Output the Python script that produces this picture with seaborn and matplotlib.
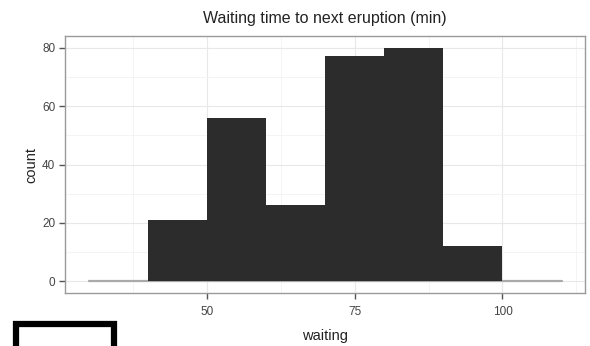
import matplotlib
matplotlib.use("Agg")
import matplotlib.pyplot as plt
import seaborn as sns
import numpy as np
from matplotlib.patches import Rectangle
from matplotlib.ticker import MultipleLocator

# data
bin_edges = [40, 50, 60, 70, 80, 90, 100]
counts = [21, 56, 26, 77, 80, 12]
baseline_x = [30, 110]
baseline_y = [0, 0]
x_ticks = [50, 75, 100]
y_ticks = [0, 20, 40, 60, 80]
title = "Waiting time to next eruption (min)"
x_label = "waiting"
y_label = "count"

sns.set_theme(style="white")
plt.rcParams['font.family'] = ['Liberation Sans', 'DejaVu Sans']

fig = plt.figure(figsize=(5.9, 3.46), dpi=100)
ax = fig.add_axes([0.110, 0.153, 0.882, 0.743])

centers = [(bin_edges[i] + bin_edges[i + 1]) / 2 for i in range(len(counts))]
sns.histplot(x=centers, weights=counts, bins=bin_edges, ax=ax,
             color="#2c2c2c", alpha=1, linewidth=0, zorder=3)
ax.plot(baseline_x, baseline_y, color="#aaaaaa", lw=1.6, zorder=2)

ax.set_xlim(26, 114)
ax.set_ylim(-4, 84)
ax.set_xticks(x_ticks)
ax.set_yticks(y_ticks)
ax.xaxis.set_minor_locator(MultipleLocator(12.5))
ax.yaxis.set_minor_locator(MultipleLocator(10))
ax.grid(True, which="major", color="#e8e8e8", lw=0.8, zorder=0)
ax.grid(True, which="minor", color="#f3f3f3", lw=0.6, zorder=0)
ax.set_axisbelow(True)
for s in ax.spines.values():
    s.set_color("#9a9a9a")
    s.set_linewidth(1.0)
ax.tick_params(axis="both", which="major", length=4, width=1.0, color="#555555",
               labelsize=8.5, labelcolor="#444444", pad=3, bottom=True, left=True)
ax.tick_params(axis="x", which="major", pad=5)
ax.tick_params(axis="both", which="minor", length=0)
ax.set_title(title, fontsize=11.5, color="#222222", pad=9)
ax.set_xlabel(x_label, fontsize=10.5, color="#222222", labelpad=8)
ax.set_ylabel(y_label, fontsize=10.5, color="#222222", labelpad=2.5)

fig.patches.append(Rectangle((16 / 590, -0.05), 98 / 590, (346 - 324) / 346 + 0.05,
                             transform=fig.transFigure, fill=False,
                             edgecolor="black", lw=4.5))

fig.savefig("out.png", dpi=100)
